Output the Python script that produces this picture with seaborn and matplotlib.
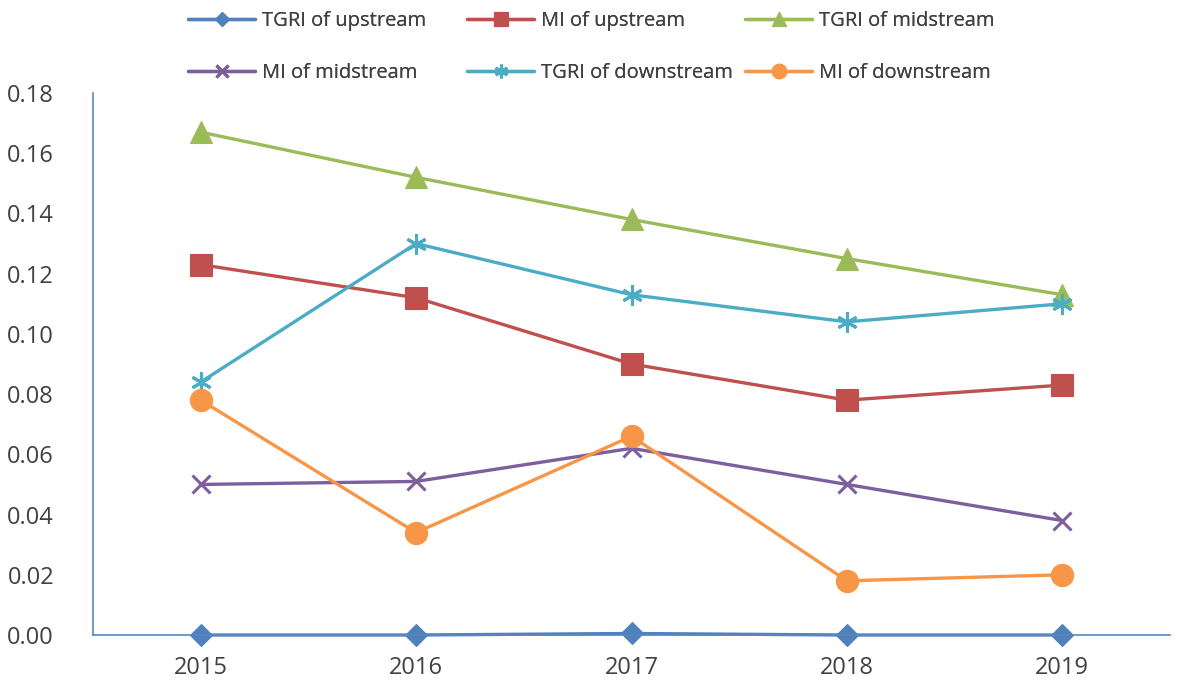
import matplotlib
matplotlib.use("Agg")
import matplotlib.pyplot as plt
import seaborn as sns
import pandas as pd

years = ["2015", "2016", "2017", "2018", "2019"]
tgri_up = [0.000, 0.000, 0.0005, 0.000, 0.000]
mi_up = [0.123, 0.112, 0.090, 0.078, 0.083]
tgri_mid = [0.167, 0.152, 0.138, 0.125, 0.113]
mi_mid = [0.050, 0.051, 0.062, 0.050, 0.038]
tgri_down = [0.084, 0.130, 0.113, 0.104, 0.110]
mi_down = [0.078, 0.034, 0.066, 0.018, 0.020]

series_names = ["TGRI of upstream", "MI of upstream", "TGRI of midstream",
                "MI of midstream", "TGRI of downstream", "MI of downstream"]
series_vals = [tgri_up, mi_up, tgri_mid, mi_mid, tgri_down, mi_down]
colors = ["#4F81BD", "#C0504D", "#9BBB59", "#7D5FA0", "#4BACC6", "#F79646"]
markers = ["D", "s", "^", "x", (6, 2, 0), "o"]
msizes = [11.5, 16, 16, 13, 15, 16]

sns.set_theme(style="white")
plt.rcParams['font.family'] = ['Open Sans', 'DejaVu Sans']

fig = plt.figure(figsize=(11.81, 6.88), dpi=100)
ax = fig.add_axes([93 / 1181, 53 / 688, 1077 / 1181, 542 / 688])

xpos = list(range(len(years)))
handles = {}
for name, vals, c, m, ms in zip(series_names, series_vals, colors, markers, msizes):
    df = pd.DataFrame({"x": xpos, "y": vals})
    mew = 2.2 if m in ("x", (6, 2, 0)) else 0.8
    sns.lineplot(data=df, x="x", y="y", ax=ax, color=c, linewidth=2.4,
                 marker=m, markersize=ms, markeredgecolor=c, markerfacecolor=c,
                 markeredgewidth=mew, label=name, legend=False)
    ln = ax.get_lines()[-1]
    ln.set_clip_on(False)
    handles[name] = ln

ax.set_xlim(-0.5, 4.5)
ax.set_ylim(0, 0.18)
yt = [0, 0.02, 0.04, 0.06, 0.08, 0.10, 0.12, 0.14, 0.16, 0.18]
ax.set_yticks(yt)
ax.set_yticklabels([f"{v:.2f}" for v in yt])
ax.set_xticks(xpos)
ax.set_xticklabels(years)
ax.set_xlabel("")
ax.set_ylabel("")
ax.tick_params(axis="both", length=0, labelsize=17, colors="#404040")
ax.tick_params(axis="y", pad=28)
ax.tick_params(axis="x", pad=15)
for s in ["top", "right"]:
    ax.spines[s].set_visible(False)
for s in ["left", "bottom"]:
    ax.spines[s].set_color("#5B87C0")
    ax.spines[s].set_linewidth(1.2)

columns = [["TGRI of upstream", "MI of midstream"],
           ["MI of upstream", "TGRI of downstream"],
           ["TGRI of midstream", "MI of downstream"]]
col_x = [188 / 1181, 467 / 1181, 745 / 1181]
for cx, names in zip(col_x, columns):
    leg = fig.legend([handles[n] for n in names], names, loc="upper left",
                     bbox_to_anchor=(cx, 0.984), frameon=False, fontsize=14.5,
                     handlelength=3.33, handletextpad=0.35, labelspacing=1.59,
                     borderpad=0, borderaxespad=0, markerscale=0.65,
                     labelcolor="#404040")
    fig.add_artist(leg)

fig.savefig("out.png", dpi=100)
